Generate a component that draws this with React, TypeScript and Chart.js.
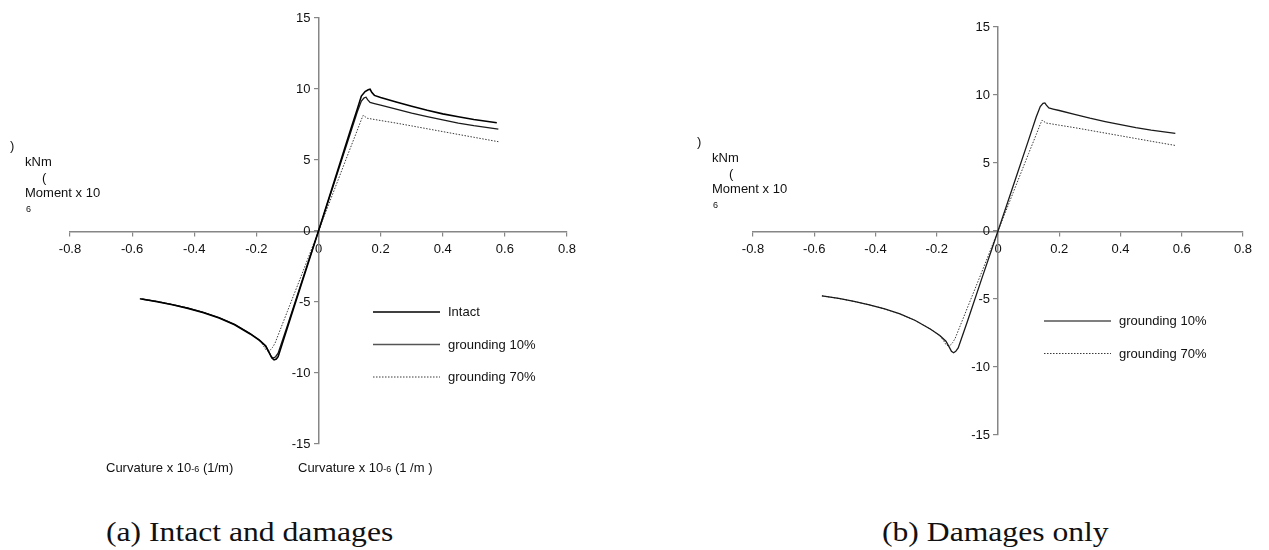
import React, { useEffect, useRef } from "react";
import { Chart, registerables } from "chart.js";

Chart.register(...registerables);

// Axis ranges and tick spacing (symmetric, so centred axes cross at 0)
const curvatureMin = -0.8;
const curvatureMax = 0.8;
const curvatureStep = 0.2;
const momentMin = -15;
const momentMax = 15;
const momentStep = 5;

// Series labels
const intactLabel = "Intact";
const g10Label = "grounding 10%";
const g70Label = "grounding 70%";

// Intact hull: curvature (x 10^-6 1/m) and moment (x 10^6 kNm)
const intactX = [-0.57, -0.52, -0.47, -0.42, -0.37, -0.32, -0.27, -0.22, -0.19, -0.17, -0.158, -0.15, -0.143, -0.136, -0.13, -0.1, -0.05, 0, 0.05, 0.1, 0.125, 0.138, 0.15, 0.16, 0.166, 0.172, 0.18, 0.2, 0.25, 0.3, 0.35, 0.4, 0.45, 0.5, 0.574];
const intactY = [-4.79, -4.98, -5.2, -5.45, -5.75, -6.12, -6.6, -7.25, -7.7, -8.1, -8.6, -8.95, -9.08, -9.02, -8.85, -6.8, -3.4, 0, 3.45, 6.9, 8.6, 9.5, 9.82, 9.95, 9.98, 9.75, 9.55, 9.4, 9.08, 8.78, 8.5, 8.25, 8.05, 7.85, 7.62];

// Grounding damage, 10%
const g10X = [-0.575, -0.52, -0.47, -0.42, -0.37, -0.32, -0.27, -0.22, -0.19, -0.17, -0.16, -0.152, -0.145, -0.138, -0.13, -0.1, -0.05, 0, 0.05, 0.1, 0.125, 0.138, 0.147, 0.153, 0.158, 0.166, 0.18, 0.2, 0.25, 0.3, 0.35, 0.4, 0.45, 0.5, 0.579];
const g10Y = [-4.77, -4.96, -5.18, -5.43, -5.73, -6.1, -6.58, -7.22, -7.68, -8.1, -8.5, -8.85, -8.95, -8.85, -8.6, -6.65, -3.3, 0, 3.35, 6.7, 8.4, 9.15, 9.38, 9.42, 9.25, 9.05, 8.97, 8.86, 8.58, 8.3, 8.05, 7.82, 7.6, 7.42, 7.18];

// Grounding damage, 70%
const g70X = [-0.575, -0.52, -0.47, -0.42, -0.37, -0.32, -0.27, -0.22, -0.19, -0.178, -0.17, -0.163, -0.156, -0.148, -0.14, -0.1, -0.05, 0, 0.05, 0.1, 0.125, 0.138, 0.144, 0.15, 0.157, 0.2, 0.25, 0.3, 0.35, 0.4, 0.45, 0.5, 0.579];
const g70Y = [-4.77, -4.96, -5.18, -5.43, -5.73, -6.1, -6.58, -7.22, -7.7, -8.05, -8.35, -8.45, -8.4, -8.2, -7.9, -5.65, -2.85, 0, 2.85, 5.7, 7.1, 7.85, 8.15, 8.05, 7.94, 7.78, 7.6, 7.4, 7.2, 7.0, 6.8, 6.6, 6.29];

const captionA = "(a) Intact and damages";
const captionB = "(b) Damages only";

const SANS = '"Liberation Sans", Arial, sans-serif';
const SERIF = '"Liberation Serif", "Times New Roman", serif';
const AXIS_GREY = "#868686";

const toPoints = (xs: number[], ys: number[]) => xs.map((x, i) => ({ x, y: ys[i] }));

const styles: Record<string, any> = {
  intact: { borderColor: "#000000", borderWidth: 1.6, borderDash: [] },
  g10: { borderColor: "#1a1a1a", borderWidth: 1.3, borderDash: [] },
  g70: { borderColor: "#3a3a3a", borderWidth: 1, borderDash: [1.5, 1.5] },
};

function makeDataset(label: string, xs: number[], ys: number[], style: any) {
  return {
    label,
    data: toPoints(xs, ys),
    ...style,
    pointRadius: 0,
    tension: 0,
    fill: false,
  };
}

// Legend drawn inside the plot: sample line followed by its label
const inlineLegend = {
  id: "inlineLegend",
  afterDraw(chart: any, _args: any, opts: any) {
    const { ctx } = chart;
    ctx.save();
    chart.data.datasets.forEach((ds: any, i: number) => {
      const y = opts.y + i * opts.rowHeight;
      ctx.beginPath();
      ctx.strokeStyle = ds.label === g10Label ? "#555" : ds.borderColor;
      ctx.lineWidth = ds.borderWidth;
      ctx.setLineDash(ds.borderDash || []);
      ctx.moveTo(opts.x, y);
      ctx.lineTo(opts.x + opts.lineLength, y);
      ctx.stroke();
      ctx.setLineDash([]);
      ctx.fillStyle = "#111";
      ctx.font = `13px ${SANS}`;
      ctx.textBaseline = "middle";
      ctx.textAlign = "left";
      ctx.fillText(ds.label, opts.x + opts.lineLength + 8, y + 0.5);
    });
    ctx.restore();
  },
};

function buildConfig(datasets: any[], padding: any, legend: any) {
  return {
    type: "line",
    data: { datasets },
    plugins: [inlineLegend],
    options: {
      responsive: false,
      animation: false,
      events: [],
      layout: { padding },
      plugins: {
        legend: { display: false },
        tooltip: { enabled: false },
        inlineLegend: legend,
      },
      scales: {
        x: {
          type: "linear",
          position: "center",
          min: curvatureMin,
          max: curvatureMax,
          ticks: {
            stepSize: curvatureStep,
            color: "#111",
            font: { family: SANS, size: 13 },
            padding: 7,
            maxRotation: 0,
            autoSkip: false,
            callback: (v: any) => String(Math.round(Number(v) * 10) / 10),
          },
          grid: { display: true, drawOnChartArea: false, drawTicks: true, tickLength: 4, color: AXIS_GREY, lineWidth: 1.2 },
          border: { display: true, color: AXIS_GREY, width: 1.5 },
        },
        y: {
          type: "linear",
          position: "center",
          min: momentMin,
          max: momentMax,
          ticks: {
            stepSize: momentStep,
            color: "#111",
            font: { family: SANS, size: 13 },
            padding: 4,
            autoSkip: false,
            callback: (v: any) => String(Math.round(Number(v))),
          },
          grid: { display: true, drawOnChartArea: false, drawTicks: true, tickLength: 4, color: AXIS_GREY, lineWidth: 1.2 },
          border: { display: true, color: AXIS_GREY, width: 1.5 },
        },
      },
    },
  };
}

function MomentChart({ datasets, width, height, padding, legend }: any) {
  const ref = useRef<HTMLCanvasElement | null>(null);
  useEffect(() => {
    if (!ref.current) return;
    const chart = new Chart(ref.current, buildConfig(datasets, padding, legend) as any);
    return () => chart.destroy();
  }, []);
  return <canvas ref={ref} width={width} height={height} style={{ width, height, display: "block" }} />;
}

const txt = (left: number, top: number, size = 13): React.CSSProperties => ({
  position: "absolute",
  left,
  top,
  fontFamily: SANS,
  fontSize: size,
  lineHeight: `${size + 1}px`,
  color: "#111",
  whiteSpace: "pre",
});

function MomentTitle({ left, top }: { left: number; top: number }) {
  return (
    <>
      <span style={txt(left - 15, top)}>)</span>
      <span style={txt(left, top + 16)}>kNm</span>
      <span style={txt(left + 17, top + 32)}>(</span>
      <span style={txt(left, top + 47)}>Moment x 10</span>
      <span style={txt(left + 1, top + 65, 9)}>6</span>
    </>
  );
}

function CurvatureTitle({ left, top, unit }: { left: number; top: number; unit: string }) {
  return (
    <span style={txt(left, top)}>
      Curvature x 10<span style={{ fontSize: 9 }}>-6</span> {unit}
    </span>
  );
}

const captionStyle = (left: number): React.CSSProperties => ({
  position: "absolute",
  left,
  top: 518,
  fontFamily: SERIF,
  fontSize: 28,
  lineHeight: "28px",
  color: "#111",
  whiteSpace: "pre",
  transform: "scaleX(1.13)",
  transformOrigin: "left top",
});

export default function App() {
  const leftSets = [
    makeDataset(intactLabel, intactX, intactY, styles.intact),
    makeDataset(g10Label, g10X, g10Y, styles.g10),
    makeDataset(g70Label, g70X, g70Y, styles.g70),
  ];
  const rightSets = [
    makeDataset(g10Label, g10X, g10Y, styles.g10),
    makeDataset(g70Label, g70X, g70Y, styles.g70),
  ];
  return (
    <div style={{ position: "absolute", left: 0, top: 0, width: 1269, height: 550, background: "#fff", overflow: "hidden" }}>
      <div style={{ position: "absolute", left: 0, top: 0 }}>
        <MomentChart
          datasets={leftSets}
          width={640}
          height={470}
          padding={{ left: 70, right: 73, top: 18, bottom: 26 }}
          legend={{ x: 373, y: 312, rowHeight: 32.5, lineLength: 67 }}
        />
      </div>
      <div style={{ position: "absolute", left: 640, top: 0 }}>
        <MomentChart
          datasets={rightSets}
          width={629}
          height={470}
          padding={{ left: 113, right: 26, top: 27, bottom: 35 }}
          legend={{ x: 404, y: 321, rowHeight: 32.5, lineLength: 67 }}
        />
      </div>
      <MomentTitle left={25} top={139} />
      <MomentTitle left={712} top={135} />
      <CurvatureTitle left={106} top={461} unit="(1/m)" />
      <CurvatureTitle left={298} top={461} unit="(1 /m )" />
      <div style={captionStyle(106)}>{captionA}</div>
      <div style={captionStyle(882)}>{captionB}</div>
    </div>
  );
}
